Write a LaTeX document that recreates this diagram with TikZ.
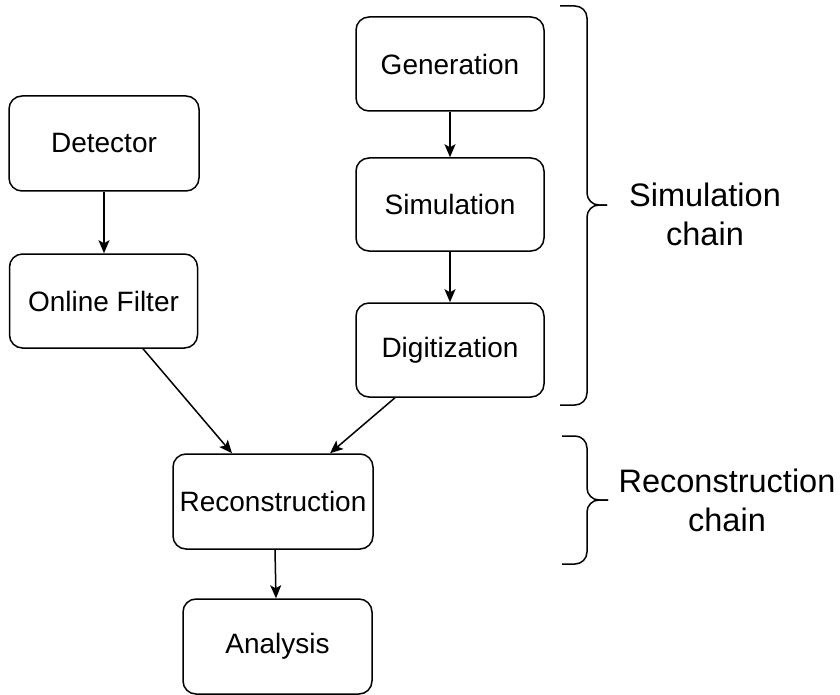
\documentclass[tikz,border=0pt]{standalone}
\usepackage{fontspec}
\setmainfont{Liberation Sans}
\usetikzlibrary{arrows.meta,calc}
\begin{document}
\begin{tikzpicture}[x=1pt,y=-1pt,
  box/.style={draw, line width=1.5pt, rounded corners=13pt, inner sep=0pt,
    font=\fontsize{28}{33.6}\selectfont},
  arr/.style={line width=1.5pt, -{Stealth[length=13pt,width=11pt,inset=3pt]}},
  brace/.style={line width=1.5pt, rounded corners=12pt},
  lbl/.style={align=center, inner sep=0pt, font=\fontsize{32.5}{39}\selectfont}]
\useasboundingbox (0,0) rectangle (840,695);
% boxes
\node[box, minimum width=188pt, minimum height=94pt] (gen) at (450,64) {Generation};
\node[box, minimum width=188pt, minimum height=93pt] (sim) at (450,204.5) {Simulation};
\node[box, minimum width=188pt, minimum height=94pt] (dig) at (450,350) {Digitization};
\node[box, minimum width=190pt, minimum height=95pt] (det) at (104,143.5) {Detector};
\node[box, minimum width=188pt, minimum height=94pt] (onl) at (103.5,301) {Online Filter};
\node[box, minimum width=200pt, minimum height=95pt] (rec) at (273,501.5) {Reconstruction};
\node[box, minimum width=189pt, minimum height=95pt] (ana) at (277.5,646.5) {Analysis};
% connectors
\draw[arr] (gen.south) -- (sim.north);
\draw[arr] (sim.south) -- (dig.north);
\draw[arr] (det.south) -- (det.south |- onl.north);
\draw[arr] ([xshift=39.5pt]onl.south) -- ([xshift=-41pt]rec.north);
\draw[arr] ([xshift=-55pt]dig.south) -- ([xshift=57pt]rec.north);
\draw[arr] ([xshift=2pt]rec.south) -- ([xshift=-1.5pt]ana.north);
% braces
\coordinate (b1top) at (560,6);
\coordinate (b1tip) at (607,205);
\coordinate (b1bot) at (560,405);
\draw[brace] (b1top) -- (587,6) -- (587,205) -- (b1tip);
\draw[brace] (b1tip) -- (587,205) -- (587,405) -- (b1bot);
\coordinate (b2top) at (562,436);
\coordinate (b2tip) at (608,500);
\coordinate (b2bot) at (562,564);
\draw[brace] (b2top) -- (587,436) -- (587,500) -- (b2tip);
\draw[brace] (b2tip) -- (587,500) -- (587,564) -- (b2bot);
% labels
\node[lbl] (simlbl) at (705,214) {Simulation\\chain};
\node[lbl] (reclbl) at (727,500) {Reconstruction\\chain};
\end{tikzpicture}
\end{document}
